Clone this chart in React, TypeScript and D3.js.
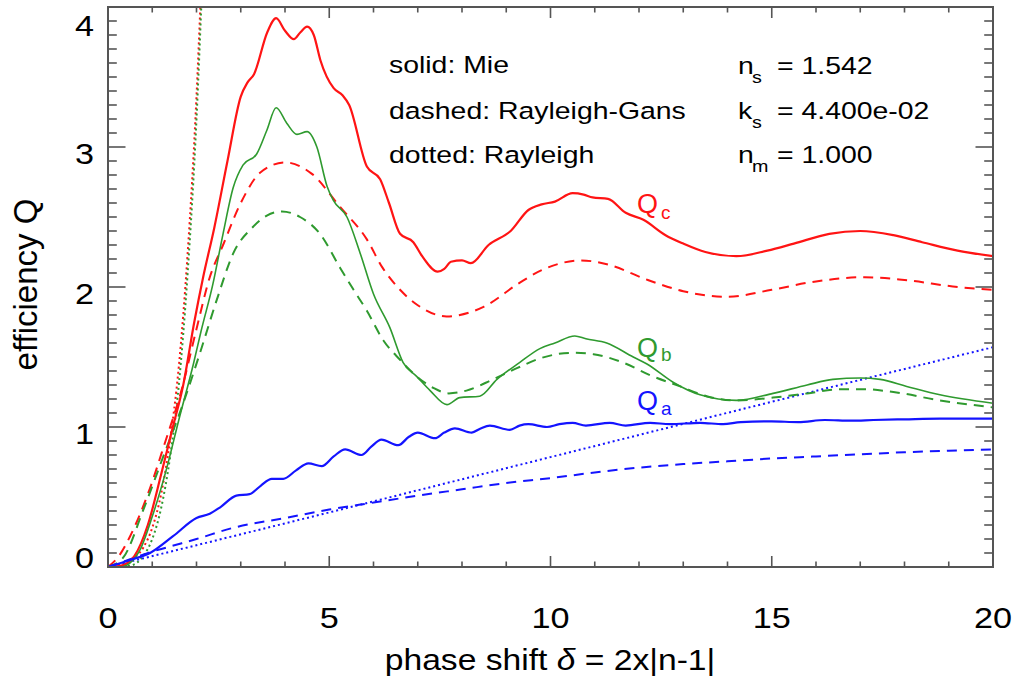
import React from 'react';
import * as d3 from 'd3';

const W = 1018;
const H = 693;
const M = { left: 108, top: 7, right: 25, bottom: 126 };

const xDomain: [number, number] = [0, 20];
const yDomain: [number, number] = [0, 4];
const xMajor = [0, 5, 10, 15, 20];
const yMajor = [0, 1, 2, 3, 4];
const xTickLabels = ['0', '5', '10', '15', '20'];
const yTickLabels = ['0', '1', '2', '3', '4'];

type P = [number, number];

// Q_c (red)
const qcMie: P[] = [
  [0, 0], [0.3, 0.01], [0.6, 0.08], [0.9, 0.3], [1.2, 0.66], [1.45, 0.98], [1.7, 1.3], [1.95, 1.75],
  [2.15, 2.07], [2.4, 2.42], [2.7, 2.9], [3.0, 3.36], [3.15, 3.46], [3.3, 3.52], [3.6, 3.82], [3.8, 3.92],
  [4.0, 3.83], [4.2, 3.77], [4.35, 3.82], [4.5, 3.86], [4.65, 3.8], [4.8, 3.62], [5.1, 3.42], [5.3, 3.37],
  [5.45, 3.3], [5.85, 2.86], [6.15, 2.77], [6.35, 2.6], [6.6, 2.38], [6.9, 2.32], [7.1, 2.22], [7.45, 2.11],
  [7.6, 2.13], [7.75, 2.18], [8.0, 2.19], [8.2, 2.17], [8.6, 2.3], [9.1, 2.4], [9.5, 2.55], [9.8, 2.59],
  [10.1, 2.61], [10.5, 2.67], [10.75, 2.66], [10.95, 2.64], [11.3, 2.63], [11.7, 2.53], [12.1, 2.48],
  [12.6, 2.37], [13.0, 2.31], [13.5, 2.25], [14.2, 2.22], [14.9, 2.26], [15.5, 2.31], [16.3, 2.38],
  [17.0, 2.4], [17.75, 2.37], [18.4, 2.32], [19.2, 2.26], [20, 2.22],
];
const qcRG: P[] = [
  [0, 0], [0.25, 0.08], [0.5, 0.22], [0.9, 0.52], [1.3, 0.9], [1.65, 1.25], [2.0, 1.7], [2.3, 2.07],
  [2.6, 2.3], [3.0, 2.6], [3.45, 2.82], [4.0, 2.89], [4.6, 2.81], [5.25, 2.57], [5.85, 2.34], [6.2, 2.14],
  [6.6, 1.98], [7.0, 1.87], [7.65, 1.79], [8.5, 1.86], [9.3, 2.03], [9.8, 2.12], [10.7, 2.19], [11.3, 2.16],
  [12.2, 2.05], [13.0, 1.97], [14.0, 1.93], [15.0, 1.98], [16.0, 2.04], [17.1, 2.07], [18.0, 2.05],
  [19.2, 2.0], [20, 1.98],
];
const qcRay: P[] = [
  [0, 0], [0.5, 0.05], [0.8, 0.14], [1.0, 0.28], [1.2, 0.52], [1.4, 0.9], [1.6, 1.43], [1.8, 2.24],
  [2.0, 3.36], [2.1, 4.1],
];

// Q_b (green)
const qbMie: P[] = [
  [0, 0], [0.27, 0.0], [0.5, 0.03], [0.72, 0.12], [1.0, 0.36], [1.33, 0.71], [1.6, 1.05], [1.93, 1.45],
  [2.1, 1.68], [2.37, 2.02], [2.6, 2.38], [2.83, 2.71], [3.05, 2.87], [3.36, 2.95], [3.59, 3.12], [3.8, 3.28],
  [4.04, 3.17], [4.27, 3.09], [4.5, 3.11], [4.72, 3.0], [4.95, 2.72], [5.09, 2.62], [5.4, 2.5], [5.7, 2.24],
  [6.0, 1.95], [6.37, 1.71], [6.67, 1.46], [6.98, 1.36], [7.28, 1.26], [7.66, 1.16], [7.95, 1.21],
  [8.4, 1.22], [8.79, 1.34], [9.3, 1.46], [9.76, 1.56], [10.1, 1.6], [10.55, 1.65], [10.8, 1.63],
  [11.27, 1.6], [11.87, 1.5], [12.18, 1.45], [12.77, 1.32], [13.38, 1.23], [14.2, 1.19], [15.03, 1.24],
  [15.8, 1.3], [16.38, 1.34], [17.0, 1.35], [17.45, 1.34], [18.05, 1.29], [18.8, 1.23], [20, 1.17],
];
const qbRG: P[] = [
  [0, 0], [0.35, 0.07], [0.8, 0.41], [1.25, 0.79], [1.7, 1.17], [2.08, 1.53], [2.46, 1.91], [2.83, 2.24],
  [3.28, 2.43], [3.59, 2.51], [3.93, 2.54], [4.34, 2.5], [4.79, 2.38], [5.24, 2.14], [5.55, 1.98],
  [5.85, 1.83], [6.22, 1.62], [6.6, 1.48], [6.98, 1.36], [7.35, 1.28], [7.7, 1.24], [8.1, 1.26],
  [8.7, 1.34], [9.24, 1.42], [9.76, 1.49], [10.5, 1.53], [10.97, 1.52], [11.64, 1.46], [12.25, 1.37],
  [12.93, 1.29], [13.53, 1.22], [14.2, 1.19], [15.03, 1.21], [15.8, 1.24], [16.55, 1.27], [17.07, 1.27],
  [17.75, 1.25], [18.8, 1.19], [20, 1.14],
];
const qbRay: P[] = [
  [0, 0], [0.5, 0.01], [0.8, 0.08], [1.0, 0.2], [1.2, 0.42], [1.4, 0.78], [1.6, 1.3], [1.8, 2.1],
  [2.0, 3.2], [2.12, 4.1],
];

// Q_a (blue)
const qaMie: P[] = [
  [0, 0], [0.5, 0.05], [0.95, 0.1], [1.47, 0.22], [2.0, 0.35], [2.3, 0.38], [2.55, 0.43], [2.9, 0.51],
  [3.2, 0.52], [3.45, 0.58], [3.7, 0.63], [3.96, 0.63], [4.25, 0.69], [4.53, 0.74], [4.83, 0.72],
  [5.1, 0.79], [5.36, 0.84], [5.73, 0.8], [5.95, 0.86], [6.18, 0.91], [6.56, 0.87], [6.8, 0.93],
  [7.0, 0.96], [7.39, 0.92], [7.6, 0.96], [7.84, 0.99], [8.22, 0.96], [8.42, 0.99], [8.63, 1.01],
  [9.08, 0.98], [9.3, 1.01], [9.5, 1.02], [9.92, 1.0], [10.2, 1.02], [10.5, 1.03], [10.8, 1.01],
  [11.34, 1.03], [11.7, 1.01], [12.25, 1.03], [12.7, 1.02], [13.38, 1.03], [13.9, 1.02], [14.3, 1.035],
  [15.0, 1.04], [15.6, 1.035], [16.2, 1.05], [16.8, 1.045], [17.3, 1.05], [18.0, 1.055], [18.8, 1.06],
  [19.4, 1.06], [20, 1.06],
];
const qaRG: P[] = [
  [0, 0], [0.5, 0.055], [1.0, 0.11], [1.5, 0.155], [2.0, 0.2], [2.83, 0.28], [4.0, 0.35], [5.0, 0.41],
  [6.0, 0.46], [7.0, 0.51], [8.0, 0.555], [9.0, 0.6], [10.0, 0.635], [11.0, 0.675], [12.0, 0.71],
  [13.0, 0.735], [14.0, 0.755], [15.0, 0.775], [16.0, 0.79], [17.0, 0.805], [18.0, 0.82], [19.0, 0.83],
  [20, 0.84],
];
const qaRay: P[] = [[0, 0], [5, 0.39], [10, 0.785], [15, 1.18], [20, 1.57]];

const RED = '#ff1414';
const GREEN = '#2f9a2f';
const BLUE = '#1414ff';
const AXIS = '#555555';
const FONT = "'Liberation Sans', Arial, Helvetica, sans-serif";
const SX = 1.16;

function T(props: {
  x: number;
  y: number;
  size: number;
  fill?: string;
  anchor?: string;
  stretch?: number;
  children: React.ReactNode;
}) {
  const { x, y, size, fill = '#000', anchor = 'start', stretch = SX, children } = props;
  return (
    <text
      transform={`translate(${x},${y}) scale(${stretch},1)`}
      fontSize={size}
      fill={fill}
      textAnchor={anchor as any}
      fontFamily={FONT}
    >
      {children}
    </text>
  );
}

export default function App() {
  const x = d3.scaleLinear().domain(xDomain).range([M.left, W - M.right]);
  const y = d3.scaleLinear().domain(yDomain).range([H - M.bottom, M.top]);
  const line = d3
    .line<P>()
    .x((d) => x(d[0]))
    .y((d) => y(d[1]))
    .curve(d3.curveMonotoneX);

  const x0 = x(xDomain[0]);
  const x1 = x(xDomain[1]);
  const y0 = y(yDomain[0]);
  const y1 = y(yDomain[1]);

  const xMinor = d3.range(xDomain[0], xDomain[1] + 0.001, 1).filter((v) => !xMajor.includes(v));
  const yMinor = d3
    .range(0, 41, 1)
    .map((v) => v / 10)
    .filter((v) => !yMajor.includes(v));

  const xTL = 11, xTLm = 5.5, yTL = 17.5, yTLm = 8.8;

  const series = [
    { d: qcRay, c: RED, w: 2, dash: '2,3' },
    { d: qbRay, c: GREEN, w: 2, dash: '2,3' },
    { d: qaRay, c: BLUE, w: 2, dash: '2,3' },
    { d: qcRG, c: RED, w: 2, dash: '10,7' },
    { d: qbRG, c: GREEN, w: 2, dash: '10,7' },
    { d: qaRG, c: BLUE, w: 2, dash: '10,7' },
    { d: qcMie, c: RED, w: 2.2, dash: undefined },
    { d: qbMie, c: GREEN, w: 1.6, dash: undefined },
    { d: qaMie, c: BLUE, w: 2.2, dash: undefined },
  ];

  return (
    <svg
      width={W}
      height={H}
      style={{ position: 'absolute', left: 0, top: 0, background: '#fff' }}
      xmlns="http://www.w3.org/2000/svg"
    >
      <defs>
        <clipPath id="plotclip">
          <rect x={x0} y={y1} width={x1 - x0} height={y0 - y1} />
        </clipPath>
      </defs>
      <rect x={0} y={0} width={W} height={H} fill="#fff" />

      <g clipPath="url(#plotclip)">
        {series.map((s, i) => (
          <path
            key={i}
            d={line(s.d) || ''}
            fill="none"
            stroke={s.c}
            strokeWidth={s.w}
            strokeDasharray={s.dash}
            strokeLinejoin="round"
          />
        ))}
      </g>

      {/* ticks */}
      <g stroke={AXIS} strokeWidth={1.6}>
        {xMajor.map((v) => (
          <g key={'xM' + v}>
            <line x1={x(v)} x2={x(v)} y1={y0} y2={y0 - xTL} />
            <line x1={x(v)} x2={x(v)} y1={y1} y2={y1 + xTL} />
          </g>
        ))}
        {xMinor.map((v) => (
          <g key={'xm' + v}>
            <line x1={x(v)} x2={x(v)} y1={y0} y2={y0 - xTLm} />
            <line x1={x(v)} x2={x(v)} y1={y1} y2={y1 + xTLm} />
          </g>
        ))}
        {yMajor.map((v) => (
          <g key={'yM' + v}>
            <line x1={x0} x2={x0 + yTL} y1={y(v)} y2={y(v)} />
            <line x1={x1} x2={x1 - yTL} y1={y(v)} y2={y(v)} />
          </g>
        ))}
        {yMinor.map((v) => (
          <g key={'ym' + v}>
            <line x1={x0} x2={x0 + yTLm} y1={y(v)} y2={y(v)} />
            <line x1={x1} x2={x1 - yTLm} y1={y(v)} y2={y(v)} />
          </g>
        ))}
      </g>
      <rect x={x0} y={y1} width={x1 - x0} height={y0 - y1} fill="none" stroke={AXIS} strokeWidth={2} />

      {/* tick labels */}
      {xMajor.map((v, i) => (
        <T key={'xl' + v} x={x(v)} y={628} size={29.5} anchor="middle">
          {xTickLabels[i]}
        </T>
      ))}
      {yMajor.map((v, i) => (
        <T key={'yl' + v} x={94} y={Math.min(568, Math.max(36, y(v) + 17))} size={29.5} anchor="end">
          {yTickLabels[i]}
        </T>
      ))}

      {/* axis titles */}
      <T x={550} y={670} size={29} anchor="middle">
        phase shift <tspan fontStyle="italic">δ</tspan> = 2x|n-1|
      </T>
      <text
        transform={`translate(37,${(197 + 372) / 2}) rotate(-90)`}
        fontSize={33}
        fontFamily={FONT}
        textAnchor="middle"
        fill="#000"
      >
        efficiency Q
      </text>

      {/* annotations */}
      <T x={389} y={73} size={24.5}>solid: Mie</T>
      <T x={389} y={119} size={24.5}>dashed: Rayleigh-Gans</T>
      <T x={389} y={163} size={24.5}>dotted: Rayleigh</T>

      <T x={738} y={74} size={24.5}>n</T>
      <T x={752} y={83} size={17}>s</T>
      <T x={777} y={74} size={24.5}>= 1.542</T>

      <T x={738} y={119} size={24.5}>k</T>
      <T x={752} y={128} size={17}>s</T>
      <T x={777} y={119} size={24.5}>= 4.400e-02</T>

      <T x={738} y={163} size={24.5}>n</T>
      <T x={752} y={172} size={17}>m</T>
      <T x={777} y={163} size={24.5}>= 1.000</T>

      {/* curve labels */}
      <T x={637} y={213} size={27} fill={RED} stretch={1}>Q</T>
      <T x={661} y={219} size={19} fill={RED} stretch={1}>c</T>
      <T x={637} y={357} size={27} fill={GREEN} stretch={1}>Q</T>
      <T x={661} y={361} size={19} fill={GREEN} stretch={1}>b</T>
      <T x={637} y={410} size={27} fill={BLUE} stretch={1}>Q</T>
      <T x={661} y={415} size={19} fill={BLUE} stretch={1}>a</T>
    </svg>
  );
}
